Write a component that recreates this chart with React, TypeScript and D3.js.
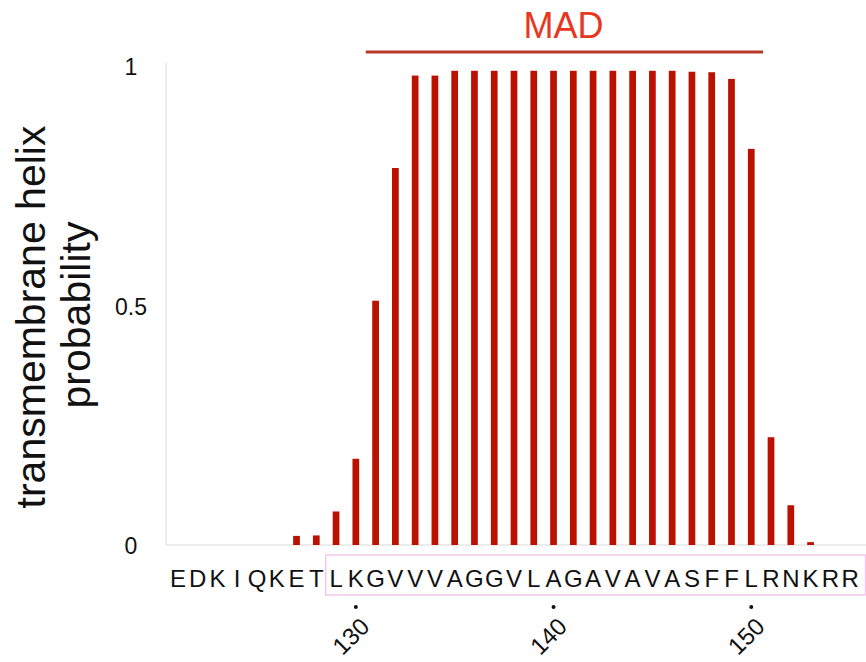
import React from "react";
import * as d3 from "d3";

// residues 121..155
const residues = "EDKIQKETLKGVVVAGGVLAGAVAVASFFLRNKRR".split("");
const startResidue = 121;
const probValues = [
  0, 0, 0, 0, 0, 0, 0.019, 0.02, 0.07, 0.18, 0.51, 0.787, 0.98, 0.98,
  0.99, 0.99, 0.99, 0.99, 0.99, 0.99, 0.99, 0.99, 0.99, 0.99, 0.99, 0.99,
  0.988, 0.987, 0.973, 0.827, 0.225, 0.083, 0.006, 0, 0,
];
const yTicks = [0, 0.5, 1];
const xTicks = [130, 140, 150];
const madRange = [131, 150];
const boxStart = 129;

const W = 866;
const H = 662;

export default function App() {
  const nums = residues.map((_, i) => startResidue + i);
  const x = d3.scaleBand<number>().domain(nums).range([168, 860]).paddingInner(0.66).paddingOuter(0.33);
  const y = d3.scaleLinear().domain([0, 1]).range([545, 66]);
  const cx = (n: number) => (x(n) ?? 0) + x.bandwidth() / 2;
  const step = x.step();

  return (
    <svg width={W} height={H} style={{ position: "absolute", left: 0, top: 0 }}
      fontFamily="'Liberation Sans', Arial, sans-serif">
      {/* axes */}
      <line x1={166} x2={166} y1={63} y2={545} stroke="#e6e6e6" strokeWidth={1.5} />
      <line x1={166} x2={866} y1={545} y2={545} stroke="#e6e6e6" strokeWidth={1.5} />
      {yTicks.map((t) => (
        <text key={t} x={131} y={y(t) + 9} fontSize={23} textAnchor="middle" fill="#111">
          {t}
        </text>
      ))}
      <text transform="translate(45,317) rotate(-90)" fontSize={41} textAnchor="middle" fill="#111">
        transmembrane helix
      </text>
      <text transform="translate(90,315) rotate(-90)" fontSize={41} textAnchor="middle" fill="#111">
        probability
      </text>

      {/* bars */}
      {probValues.map((v, i) =>
        v > 0 ? (
          <rect key={i} x={x(nums[i])} y={y(v)} width={x.bandwidth()} height={y(0) - y(v)} fill="#bb1100" />
        ) : null
      )}

      {/* MAD annotation */}
      <line x1={cx(madRange[0]) - step / 2} x2={cx(madRange[1]) + step / 2 + 2} y1={52} y2={52}
        stroke="#b83a2a" strokeWidth={3} />
      <text x={(cx(madRange[0]) + cx(madRange[1])) / 2} y={38} fontSize={36} textAnchor="middle" fill="#e8371f">
        MAD
      </text>

      {/* sequence */}
      <rect x={cx(boxStart) - step / 2 - 0.5} y={555} width={866 - (cx(boxStart) - step / 2)} height={40}
        fill="none" stroke="#f4c6f0" strokeWidth={1.5} />
      {residues.map((r, i) => (
        <text key={i} x={cx(nums[i])} y={587} fontSize={24} textAnchor="middle" fill="#111">
          {r}
        </text>
      ))}

      {/* residue number ticks */}
      {xTicks.map((t) => (
        <g key={t}>
          <circle cx={cx(t)} cy={607} r={2} fill="#111" />
          <text transform={`translate(${cx(t) + 15},${628}) rotate(-45)`} fontSize={24} textAnchor="end" fill="#111">
            {t}
          </text>
        </g>
      ))}
    </svg>
  );
}
